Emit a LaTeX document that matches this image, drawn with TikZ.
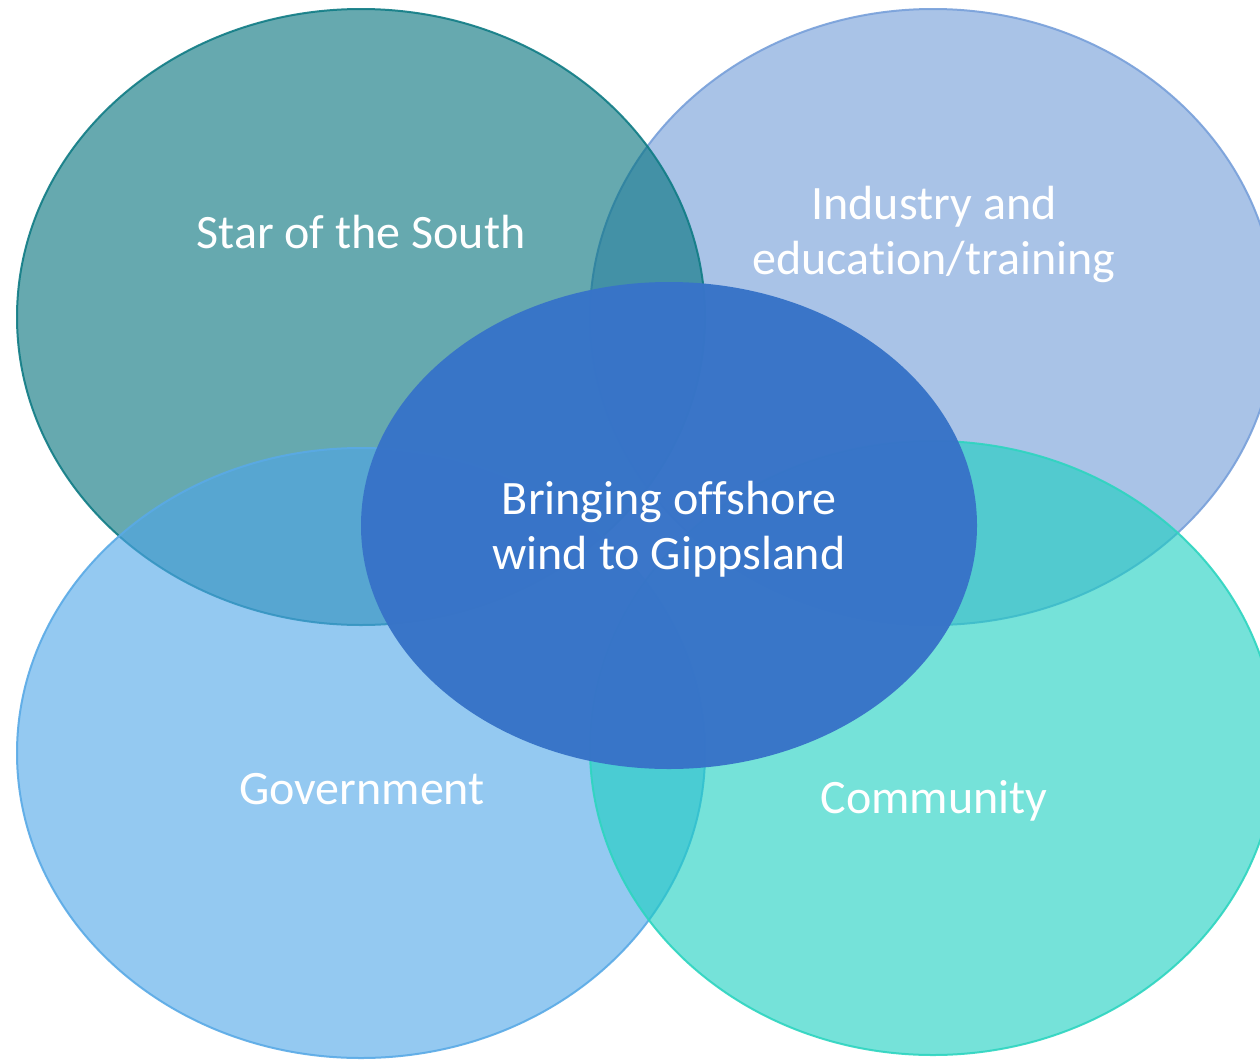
\documentclass[tikz,border=0pt]{standalone}
\usepackage{fontspec}
\setmainfont[RawFeature={-liga;-dlig;-clig}]{Carlito}
\definecolor{starfill}{RGB}{0,112,123}
\definecolor{stardraw}{RGB}{16,124,133}
\definecolor{indfill}{RGB}{112,155,215}
\definecolor{inddraw}{RGB}{120,160,218}
\definecolor{govfill}{RGB}{78,165,233}
\definecolor{govdraw}{RGB}{90,170,230}
\definecolor{comfill}{RGB}{25,207,192}
\definecolor{comdraw}{RGB}{46,213,192}
\definecolor{cenfill}{RGB}{56,116,200}
\tikzset{
  circ/.style={line width=2pt, fill opacity=0.6, draw opacity=0.9},
  lbl/.style={text=white, align=center, font=\fontsize{48}{55}\selectfont}
}
\begin{document}
\begin{tikzpicture}[x=1pt,y=-1pt]
\useasboundingbox (0,0) rectangle (1260,1060);
\clip (0,0) rectangle (1260,1060);
\fill[white] (0,0) rectangle (1260,1060);
\draw[circ, fill=indfill, draw=inddraw] (933,317) ellipse [x radius=343, y radius=308];
\draw[circ, fill=starfill, draw=stardraw] (361,317) ellipse [x radius=344, y radius=308];
\draw[circ, fill=govfill, draw=govdraw] (361,753) ellipse [x radius=344, y radius=305];
\draw[circ, fill=comfill, draw=comdraw] (933,748) ellipse [x radius=343, y radius=307];
\fill[cenfill, opacity=0.98] (669,525.5) ellipse [x radius=308, y radius=243.5];
\node[lbl] (star) at (361,232) {Star of the South};
\node[lbl] (ind) at (934,234) {Industry and\\education/training};
\node[lbl] (cen) at (669,529) {Bringing offshore\\wind to Gippsland};
\node[lbl] (gov) at (362,789) {Government};
\node[lbl] (com) at (934,801) {Community};
\end{tikzpicture}
\end{document}
